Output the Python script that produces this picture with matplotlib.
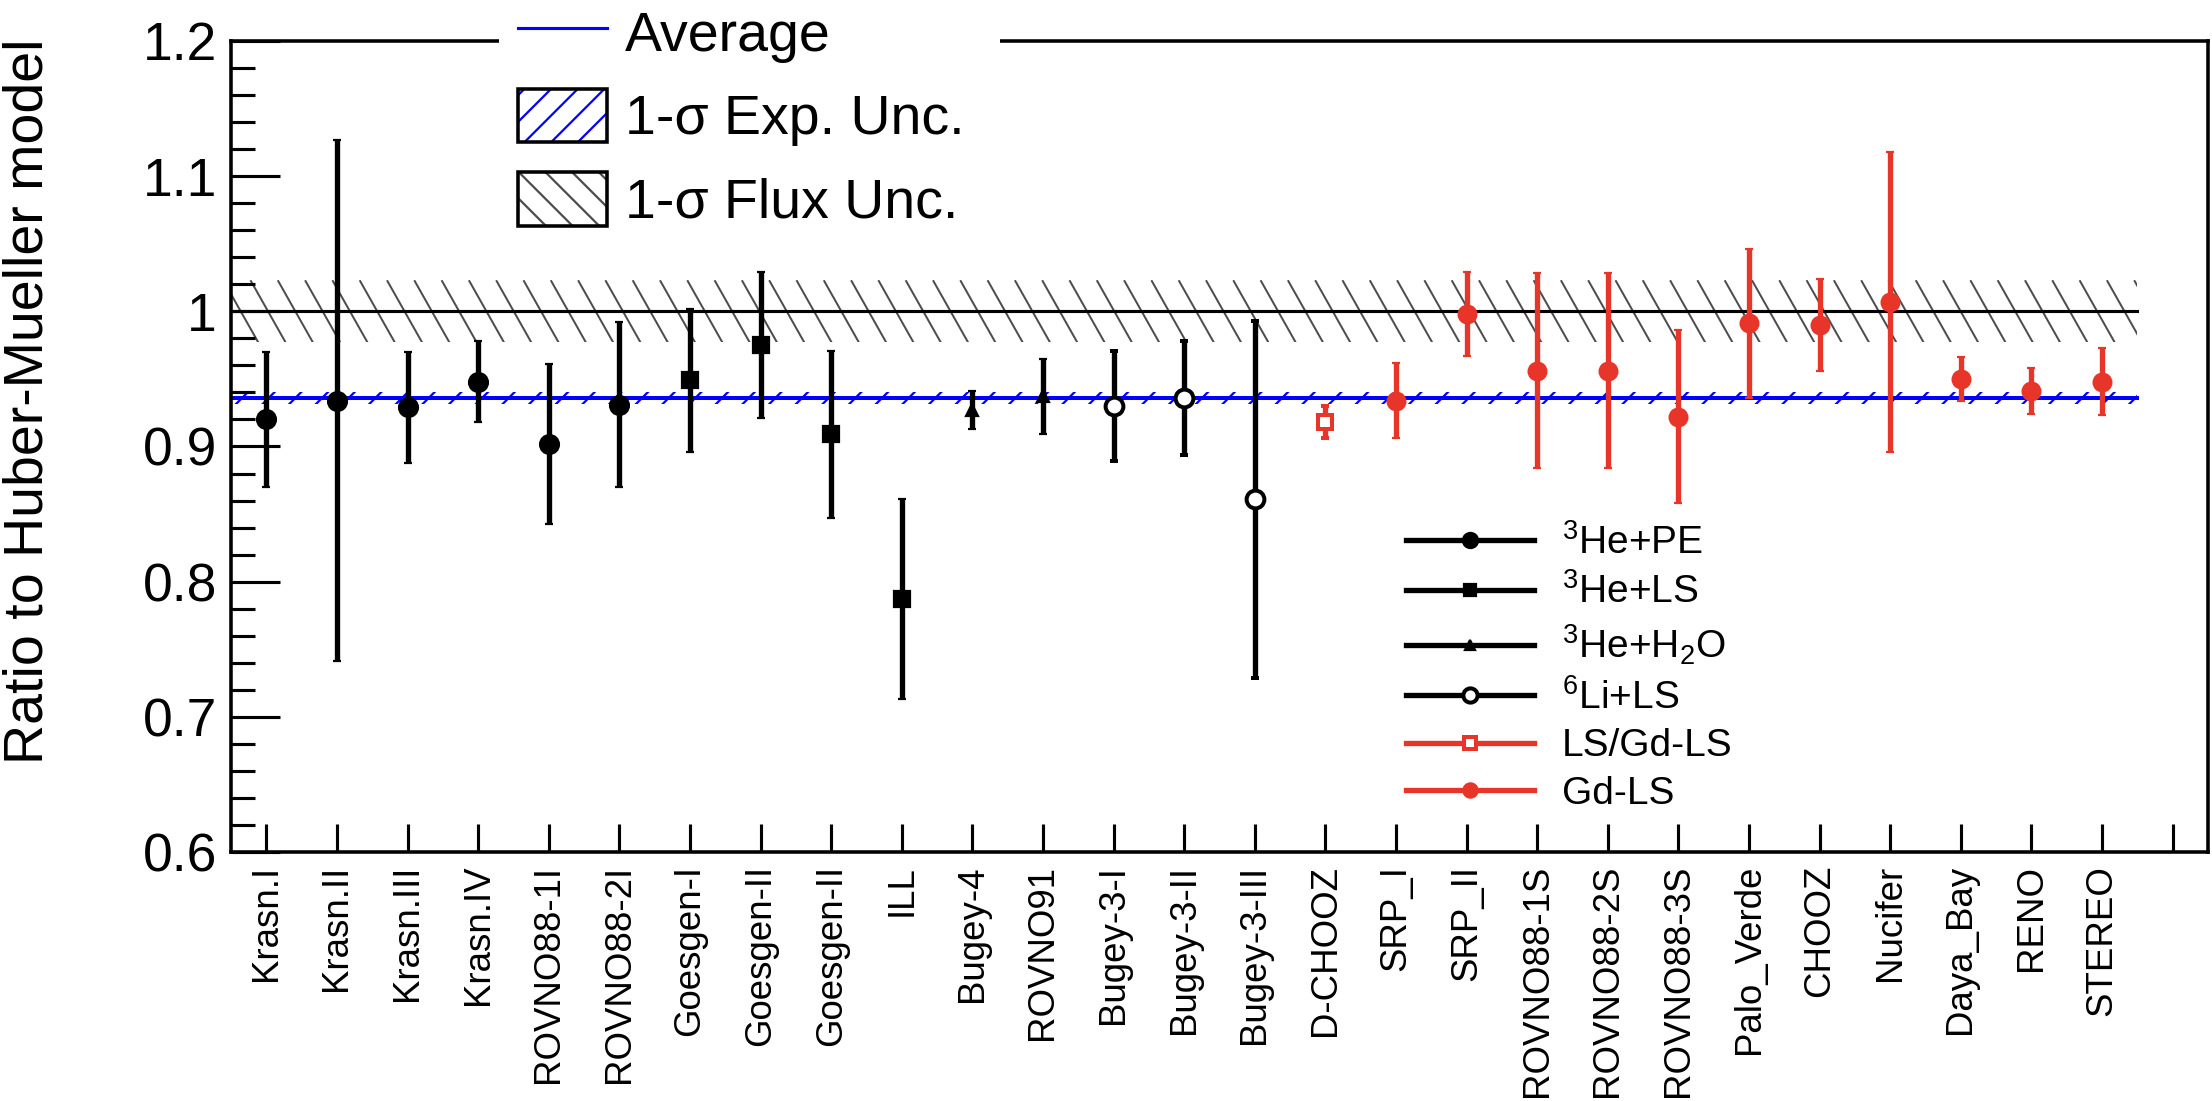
import matplotlib
matplotlib.use('Agg')
import matplotlib.pyplot as plt
from matplotlib.lines import Line2D
from matplotlib.patches import Patch, Rectangle
from matplotlib.collections import LineCollection
from matplotlib.ticker import MultipleLocator, FuncFormatter
import numpy as np

plt.rcParams['font.family'] = ['Liberation Sans', 'DejaVu Sans']
plt.rcParams['mathtext.fontset'] = 'custom'
plt.rcParams['mathtext.rm'] = 'Liberation Sans'
plt.rcParams['mathtext.it'] = 'Liberation Sans:italic'
plt.rcParams['mathtext.bf'] = 'Liberation Sans:bold'
plt.rcParams['hatch.linewidth'] = 1.0

# ---------------- data ----------------
experiments = ['Krasn.I', 'Krasn.II', 'Krasn.III', 'Krasn.IV', 'ROVNO88-1I', 'ROVNO88-2I',
               'Goesgen-I', 'Goesgen-II', 'Goesgen-II', 'ILL', 'Bugey-4', 'ROVNO91',
               'Bugey-3-I', 'Bugey-3-II', 'Bugey-3-III', 'D-CHOOZ', 'SRP_I', 'SRP_II',
               'ROVNO88-1S', 'ROVNO88-2S', 'ROVNO88-3S', 'Palo_Verde', 'CHOOZ', 'Nucifer',
               'Daya_Bay', 'RENO', 'STEREO']
ratio = [0.920, 0.934, 0.929, 0.948, 0.902, 0.931,
         0.949, 0.975, 0.909, 0.787, 0.927, 0.937,
         0.930, 0.936, 0.861, 0.918, 0.934, 0.998,
         0.956, 0.956, 0.922, 0.991, 0.990, 1.007,
         0.950, 0.941, 0.948]
ratio_err = [0.050, 0.193, 0.041, 0.030, 0.059, 0.061,
             0.053, 0.054, 0.062, 0.074, 0.014, 0.028,
             0.041, 0.042, 0.132, 0.012, 0.028, 0.031,
             0.072, 0.072, 0.064, 0.055, 0.034, 0.111,
             0.016, 0.017, 0.025]
detector = (['He3PE'] * 6 + ['He3LS'] * 4 + ['He3H2O'] * 2 + ['Li6LS'] * 3
            + ['LSGdLS'] + ['GdLS'] * 11)
detector_order = ['He3PE', 'He3LS', 'He3H2O', 'Li6LS', 'LSGdLS', 'GdLS']
detector_labels = [r'$^{3}$He+PE', r'$^{3}$He+LS', r'$^{3}$He+H$_{2}$O',
                   r'$^{6}$Li+LS', 'LS/Gd-LS', 'Gd-LS']
average_ratio = 0.936
exp_unc = 0.0045
model_ratio = 1.0
flux_unc = 0.023

# ---------------- styles ----------------
RED = '#e8352a'
styles = {
    'He3PE':  dict(color='black', marker='o', ms=8.5, mfc='black', mec='black', mew=1.0),
    'He3LS':  dict(color='black', marker='s', ms=7.0, mfc='black', mec='black', mew=1.0),
    'He3H2O': dict(color='black', marker='^', ms=5.5, mfc='black', mec='black', mew=1.0),
    'Li6LS':  dict(color='black', marker='o', ms=8.0, mfc='white', mec='black', mew=1.8),
    'LSGdLS': dict(color=RED, marker='s', ms=6.3, mfc='white', mec=RED, mew=1.8),
    'GdLS':   dict(color=RED, marker='o', ms=8.0, mfc=RED, mec=RED, mew=1.0),
}

DPI = 160
W, H = 2212, 1101
fig = plt.figure(figsize=(W / DPI, H / DPI), dpi=DPI)
ax = fig.add_axes([231 / W, 1 - 852 / H, (2208 - 231) / W, (852 - 41) / H])

n = len(experiments)
x = np.arange(n)
x_band = [-0.5, n - 0.5]
ax.set_xlim(-0.5, n + 0.5)
ax.set_ylim(0.6, 1.2)

# flux band: steep "\" hatch lines (ROOT style), clipped to the band
band_lo, band_hi = model_ratio - flux_unc, model_ratio + flux_unc
ax_w_px = (2208 - 231)
ax_h_px = (852 - 41)
px_per_x = ax_w_px / (n + 1.0)
px_per_y = ax_h_px / 0.6
band_h_px = (band_hi - band_lo) * px_per_y
hatch_step = 27.3 / px_per_x              # horizontal spacing of hatch lines
hatch_run = 0.565 * band_h_px / px_per_x  # horizontal run across the band
starts = np.arange(x_band[0] - hatch_run, x_band[1] + hatch_step, hatch_step)
segs = [[(s, band_hi), (s + hatch_run, band_lo)] for s in starts]
clip_rect = Rectangle((x_band[0], band_lo), x_band[1] - x_band[0], band_hi - band_lo,
                      transform=ax.transData)
lc = LineCollection(segs, colors='0.3', linewidths=0.9, zorder=1)
ax.add_collection(lc)
lc.set_clip_path(clip_rect)

ax.fill_between(x_band, average_ratio - exp_unc, average_ratio + exp_unc,
                facecolor='none', edgecolor='blue', hatch='//', lw=0, zorder=1.1)
ax.plot(x_band, [model_ratio, model_ratio], color='black', lw=1.4, zorder=1.5)
ax.plot(x_band, [average_ratio, average_ratio], color='blue', lw=1.8, zorder=1.6)

ratio_a = np.array(ratio)
err_a = np.array(ratio_err)
det_a = np.array(detector)
for d in detector_order:
    idx = det_a == d
    st = styles[d]
    ax.errorbar(x[idx], ratio_a[idx], yerr=err_a[idx], ls='none',
                color=st['color'], marker=st['marker'], ms=st['ms'],
                mfc=st['mfc'], mec=st['mec'], mew=st['mew'],
                elinewidth=2.4, capsize=2.0, capthick=2.7, zorder=3)

ax.set_xticks(np.arange(n + 1))
ax.set_xticklabels(experiments + [''], rotation=90, ha='center', va='top', fontsize=16.5)
ax.yaxis.set_major_locator(MultipleLocator(0.1))
ax.yaxis.set_minor_locator(MultipleLocator(0.02))
ax.yaxis.set_major_formatter(FuncFormatter(lambda v, p: f'{round(v, 2):g}'))
ax.tick_params(axis='y', which='major', direction='in', length=22, width=1.4,
               pad=6.3, labelsize=24, right=False)
ax.tick_params(axis='y', which='minor', direction='in', length=11, width=1.4, right=False)
ax.tick_params(axis='x', which='major', direction='in', length=12.6, width=1.4,
               pad=5.8, top=False)
for sp in ax.spines.values():
    sp.set_linewidth(1.6)

fig.text(29 / W, 1 - 38.6 / H, 'Ratio to Huber-Mueller model', rotation=90,
         ha='center', va='top', fontsize=25)

# white box behind the top legend (hides the frame line there)
fig.add_artist(Rectangle((499 / W, 1 - 250 / H), (1000 - 499) / W, 250 / H,
                         transform=fig.transFigure, facecolor='white',
                         edgecolor='none', zorder=3))

box = Patch(facecolor='none', edgecolor='black', lw=1.6, joinstyle='round')
exp_hatch = Patch(facecolor='none', edgecolor='blue', hatch='//', lw=0)
flux_hatch = Patch(facecolor='none', edgecolor='0.3', hatch='\\\\', lw=0)
avg_handle = Line2D([], [], color='blue', lw=1.4)
leg_top = fig.legend(handles=[avg_handle, (exp_hatch, box), (flux_hatch, box)],
                     labels=['Average', '1-σ Exp. Unc.', '1-σ Flux Unc.'],
                     loc='upper left', bbox_to_anchor=(518 / W, 1 - 5 / H),
                     frameon=False, fontsize=25, handlelength=1.6, handleheight=1.1,
                     handletextpad=0.32, labelspacing=0.47, borderpad=0,
                     borderaxespad=0)
leg_top.set_zorder(5)

handles = []
for d in detector_order:
    st = styles[d]
    handles.append(Line2D([], [], color=st['color'], lw=2.4, marker=st['marker'],
                          ms=st['ms'] * 0.8, mfc=st['mfc'], mec=st['mec'],
                          mew=st['mew']))
ax.legend(handles=handles, labels=detector_labels, loc='upper left',
          bbox_to_anchor=(1406 / W, 1 - 524 / H), bbox_transform=fig.transFigure,
          frameon=False, fontsize=17.5, handlelength=3.3, handletextpad=0.7,
          labelspacing=0.3, borderpad=0, borderaxespad=0)

fig.savefig('out.png', dpi=DPI)
